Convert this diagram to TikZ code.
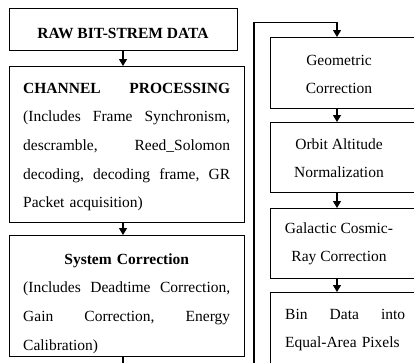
\documentclass[tikz,border=0pt]{standalone}
\usepackage{fontspec}
\setmainfont{Liberation Serif}
\usetikzlibrary{arrows.meta}
% one line spread to a given width (words separated by \hfill)
\newcommand{\jline}[2]{\makebox[#1][l]{#2}}
% fixes the height of the first line of a text block
\newcommand{\firststrut}{\rule{0pt}{12pt}}
\begin{document}
\begin{tikzpicture}[x=1pt,y=-1pt,
  box/.style={draw, line width=1.1pt, inner sep=0pt, anchor=north west},
  arr/.style={line width=1.1pt, -{Triangle[width=8pt,length=7pt]}},
  txt/.style={font=\fontsize{15.5}{28.6}\selectfont, inner sep=0pt},
  rtxt/.style={font=\fontsize{15.5}{28}\selectfont, inner sep=0pt}]
\useasboundingbox (0,0) rectangle (414,362);
\clip (0,0) rectangle (414,362);

% left column boxes
\node[box, minimum width=228pt, minimum height=42pt] (raw) at (9,8) {};
\node[box, minimum width=235pt, minimum height=156pt] (chan) at (9,66) {};
\node[box, minimum width=235pt, minimum height=121pt] (sys) at (9,235) {};

% right column boxes
\node[box, minimum width=152pt, minimum height=71pt] (geo) at (270,37) {};
\node[box, minimum width=152pt, minimum height=70pt] (orb) at (270,122) {};
\node[box, minimum width=152pt, minimum height=70pt] (gal) at (270,208) {};
\node[box, minimum width=152pt, minimum height=90pt] (bin) at (270,292) {};

% left column texts
\node[txt, anchor=base] (rawt) at (123,38) {\bfseries RAW BIT-STREM DATA};
\node[txt, anchor=north west, text width=207pt, align=left] (chant) at (23,81)
  {\firststrut\jline{207pt}{\bfseries CHANNEL\hfill PROCESSING}\\
   \jline{207pt}{(Includes\hfill Frame\hfill Synchronism,}\\
   \jline{207pt}{descramble,\hfill Reed\_Solomon}\\
   \jline{207pt}{decoding,\hfill decoding\hfill frame,\hfill GR}\\
   Packet acquisition)};
\node[txt, anchor=north west, text width=207pt, align=left] (syst) at (23,252)
  {\firststrut\makebox[207pt][c]{\bfseries System Correction}\\
   \jline{207pt}{(Includes\hfill Deadtime\hfill Correction,}\\
   \jline{207pt}{Gain\hfill Correction,\hfill Energy}\\
   Calibration)};

% right column texts
\node[rtxt, anchor=north, align=center] (geot) at (339,53) {\firststrut Geometric\\Correction};
\node[rtxt, anchor=north, align=center] (orbt) at (339,137) {\firststrut Orbit Altitude\\Normalization};
\node[rtxt, anchor=north, align=center] (galt) at (339,221) {\firststrut Galactic Cosmic-\\Ray Correction};
\node[rtxt, anchor=north west, text width=120pt, align=left] (bint) at (285,307)
  {\firststrut\jline{120pt}{Bin\hfill Data\hfill into}\\Equal-Area Pixels};

% connectors
\coordinate (rc) at (337,0);
\coordinate (low) at (123,380);
\coordinate (riser) at (254,22.7);
\draw[arr] (raw.south -| rawt) -- (chan.north -| rawt);
\draw[arr] (chan.south -| rawt) -- (sys.north -| rawt);
\draw[arr] (sys.south -| rawt) |- (riser |- low) -- (riser) -| (geo.north -| rc);
\draw[arr] (geo.south -| rc) -- (orb.north -| rc);
\draw[arr] (orb.south -| rc) -- (gal.north -| rc);
\draw[arr] (gal.south -| rc) -- (bin.north -| rc);
\end{tikzpicture}
\end{document}
